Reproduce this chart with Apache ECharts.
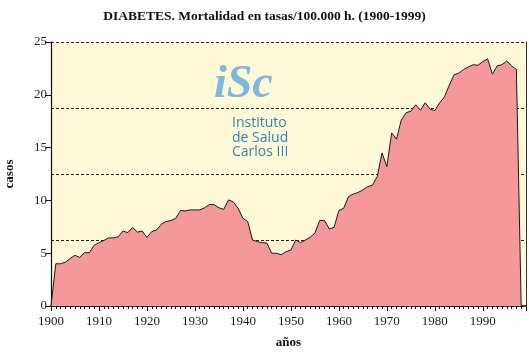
<!DOCTYPE html>
<html>
<head>
<meta charset="utf-8">
<script src="https://cdn.jsdelivr.net/npm/echarts@6/dist/echarts.min.js"></script>
<style>
  html, body { margin: 0; padding: 0; background: #fff; }
  #chart { width: 529px; height: 354px; }
</style>
</head>
<body>
<div id="chart"></div>
<script>
// años 1900..1998
var years = []
for (var y = 1900; y <= 1998; y++) years.push(y)

// tasas por 100.000 h.
var rates = [
  0, 4.0, 4.0, 4.15, 4.5, 4.8, 4.6, 5.05, 5.05, 5.75,
  6.0, 6.2, 6.45, 6.45, 6.55, 7.1, 6.95, 7.45, 7.0, 7.1,
  6.5, 7.05, 7.2, 7.75, 8.0, 8.1, 8.3, 9.05, 9.0, 9.1,
  9.1, 9.1, 9.3, 9.6, 9.6, 9.3, 9.15, 10.05, 9.85, 9.25,
  8.3, 8.0, 6.25, 6.1, 6.0, 5.95, 5.0, 5.0, 4.85, 5.15,
  5.3, 6.25, 6.0, 6.25, 6.5, 6.9, 8.1, 8.1, 7.3, 7.45,
  9.05, 9.25, 10.35, 10.6, 10.75, 11.0, 11.3, 11.45, 12.25, 14.5,
  13.2, 16.4, 15.8, 17.6, 18.3, 18.45, 19.05, 18.55, 19.25, 18.65,
  18.5, 19.25, 19.8, 20.9, 21.9, 22.05, 22.4, 22.65, 22.85, 22.8,
  23.15, 23.4, 21.95, 22.75, 22.85, 23.2, 22.75, 22.4, 0
]

var logoLines = ['Instituto', 'de Salud', 'Carlos III']

var serif = '"Liberation Serif", "DejaVu Serif", serif'

var chart = echarts.init(document.getElementById('chart'))

function buildData() {
  var data = []
  years.forEach(function (yr, i) {
    data.push([yr, rates[i]])
  })
  return data
}

chart.setOption({
  animation: false,
  title: {
    text: 'DIABETES. Mortalidad en tasas/100.000 h. (1900-1999)',
    left: 'center',
    top: 5,
    textStyle: { fontFamily: serif, fontSize: 13.5, fontWeight: 'bold', color: '#111' }
  },
  grid: {
    left: 51,
    right: 3,
    top: 42,
    bottom: 48,
    outerBoundsMode: 'none',
    show: true,
    borderWidth: 0,
    backgroundColor: '#FFF9D8'
  },
  xAxis: {
    type: 'value',
    min: 1900,
    max: 1999,
    interval: 10,
    name: 'años',
    nameLocation: 'middle',
    nameGap: 30,
    nameTextStyle: { fontFamily: serif, fontSize: 13, fontWeight: 'bold', color: '#111' },
    axisLine: { lineStyle: { color: '#111', width: 1.5 } },
    axisTick: { inside: false, length: 5, lineStyle: { color: '#111' } },
    minorTick: { show: true, splitNumber: 10, length: 3, lineStyle: { color: '#111' } },
    axisLabel: {
      showMaxLabel: false,
      margin: 9,
      fontFamily: serif,
      fontSize: 13,
      color: '#222',
      formatter: function (v) { return String(v) }
    },
    splitLine: { show: false }
  },
  yAxis: [{
    type: 'value',
    min: 0,
    max: 25,
    interval: 5,
    name: 'casos',
    nameLocation: 'middle',
    nameGap: 35,
    nameTextStyle: { fontFamily: serif, fontSize: 13, fontWeight: 'bold', color: '#111' },
    axisLine: { show: true, lineStyle: { color: '#111', width: 1.2 } },
    axisTick: { show: true, length: 6, lineStyle: { color: '#111' } },
    axisLabel: { margin: 4, fontFamily: serif, fontSize: 13, color: '#222' },
    splitLine: { show: false }
  }, {
    type: 'value',
    min: 0,
    max: 25,
    interval: 6.25,
    position: 'right',
    axisLine: { show: true, lineStyle: { color: '#333', width: 1 } },
    axisTick: { show: false },
    axisLabel: { show: false },
    splitLine: { show: true, lineStyle: { color: '#222', type: [3, 2], width: 1 } }
  }],
  graphic: [{
    type: 'group',
    left: 214,
    top: 62,
    children: [{
      type: 'text',
      x: 0,
      y: 0,
      style: {
        text: 'iSc',
        font: 'italic bold 46px "Liberation Serif", serif',
        fill: '#7DB9DC'
      }
    }, {
      type: 'text',
      x: 18,
      y: 54,
      style: {
        text: logoLines.join('\n'),
        font: '500 14px "Open Sans", "Noto Sans", sans-serif',
        lineHeight: 14.5,
        fill: '#2F86B2'
      }
    }]
  }],
  series: [{
    type: 'line',
    data: buildData(),
    symbol: 'none',
    z: 3,
    lineStyle: { color: '#1a1a1a', width: 1 },
    areaStyle: { color: '#F5989C', opacity: 1 }
  }]
})
</script>
</body>
</html>
